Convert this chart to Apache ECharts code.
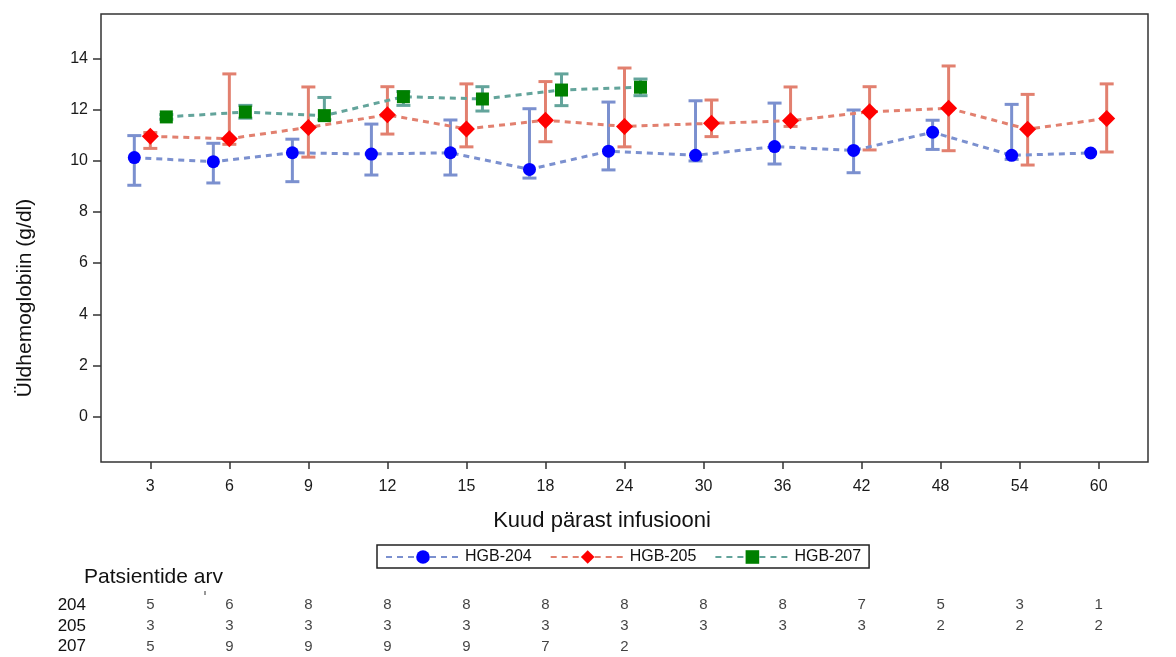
<!DOCTYPE html>
<html>
<head>
<meta charset="utf-8">
<script src="https://cdn.jsdelivr.net/npm/echarts@6/dist/echarts.min.js"></script>
<style>
html,body{margin:0;padding:0;background:#fff;}
#chart{width:1176px;height:657px;}
</style>
</head>
<body>
<div id="chart"></div>
<script>
// ---- data ----
var categories = ['3','6','9','12','15','18','24','30','36','42','48','54','60'];
var yTicks = [0,2,4,6,8,10,12,14];

var hgb204Mean = [10.12, 9.96, 10.31, 10.26, 10.31, 9.66, 10.37, 10.21, 10.55, 10.40, 11.11, 10.21, 10.30];
var hgb204Low  = [9.04, 9.13, 9.18, 9.44, 9.44, 9.32, 9.64, 9.99, 9.87, 9.53, 10.44, 10.05, null];
var hgb204High = [10.98, 10.68, 10.84, 11.43, 11.59, 12.03, 12.29, 12.34, 12.25, 11.98, 11.58, 12.20, null];

var hgb205Mean = [10.95, 10.86, 11.30, 11.79, 11.24, 11.58, 11.34, 11.46, 11.56, 11.91, 12.05, 11.23, 11.65];
var hgb205Low  = [10.48, 10.64, 10.14, 11.04, 10.54, 10.74, 10.54, 10.94, 11.34, 10.42, 10.39, 9.83, 10.34];
var hgb205High = [11.10, 13.39, 12.88, 12.89, 13.00, 13.09, 13.62, 12.37, 12.88, 12.89, 13.70, 12.59, 13.00];

var hgb207Mean = [11.71, 11.90, 11.76, 12.50, 12.41, 12.76, 12.87, null, null, null, null, null, null];
var hgb207Low  = [11.62, 11.66, 11.60, 12.16, 11.94, 12.15, 12.54, null, null, null, null, null, null];
var hgb207High = [11.80, 12.16, 12.47, 12.70, 12.89, 13.39, 13.19, null, null, null, null, null, null];

var tableRows = ['204','205','207'];
var n204 = [5,6,8,8,8,8,8,8,8,7,5,3,1];
var n205 = [3,3,3,3,3,3,3,3,3,3,2,2,2];
var n207 = [5,9,9,9,9,7,2];

var seriesNames = ['HGB-204','HGB-205','HGB-207'];

// ---- build ----
var groups = [
  {name: seriesNames[0], mean: hgb204Mean, low: hgb204Low, high: hgb204High, symbol: 'circle', size: 13, mark: '#0000FF', line: '#7B90CF'},
  {name: seriesNames[1], mean: hgb205Mean, low: hgb205Low, high: hgb205High, symbol: 'diamond', size: 17, mark: '#FF0000', line: '#E2806F'},
  {name: seriesNames[2], mean: hgb207Mean, low: hgb207Low, high: hgb207High, symbol: 'rect', size: 13, mark: '#008000', line: '#63A49B'}
];
var clusterStep = 0.2025;
function offsetFor(i, gi) {
  var present = [];
  groups.forEach(function (g, k) { if (g.mean[i] != null) present.push(k); });
  var rank = present.indexOf(gi);
  return (rank - (present.length - 1) / 2) * clusterStep;
}

var series = [];
groups.forEach(function (g, gi) {
  var barData = [];
  var lineData = [];
  g.mean.forEach(function (m, i) {
    if (m == null) return;
    var x = i + offsetFor(i, gi);
    lineData.push([x, m]);
    if (g.low[i] != null && g.high[i] != null) barData.push([x, g.low[i], g.high[i]]);
  });
  series.push({
    type: 'custom',
    name: g.name + '-err',
    xAxisIndex: 0, yAxisIndex: 0,
    z: 2,
    silent: true,
    renderItem: function (params, api) {
      var x = api.value(0);
      var lo = api.coord([x, api.value(1)]);
      var hi = api.coord([x, api.value(2)]);
      var cw = 7;
      var st = {stroke: g.line, lineWidth: 3};
      return {
        type: 'group',
        children: [
          {type: 'line', shape: {x1: lo[0], y1: lo[1], x2: hi[0], y2: hi[1]}, style: st},
          {type: 'line', shape: {x1: lo[0]-cw, y1: lo[1], x2: lo[0]+cw, y2: lo[1]}, style: st},
          {type: 'line', shape: {x1: hi[0]-cw, y1: hi[1], x2: hi[0]+cw, y2: hi[1]}, style: st}
        ]
      };
    },
    encode: {x: 0, y: [1, 2]},
    data: barData
  });
  series.push({
    type: 'line',
    name: g.name,
    xAxisIndex: 0, yAxisIndex: 0,
    z: 3,
    data: lineData,
    symbol: g.symbol,
    symbolSize: g.size,
    showAllSymbol: true,
    itemStyle: {color: g.mark},
    lineStyle: {color: g.line, width: 3, type: [6, 5]},
    animation: false
  });
});

var counts = [n204, n205, n207];
var tableData = [];
counts.forEach(function (arr, r) {
  arr.forEach(function (v, i) { tableData.push([i, r, v]); });
});
series.push({
  type: 'scatter',
  xAxisIndex: 1, yAxisIndex: 1,
  symbolSize: 0,
  silent: true,
  data: tableData,
  label: {
    show: true, position: 'inside',
    formatter: function (p) { return String(p.value[2]); },
    fontSize: 15, color: '#111', fontFamily: 'Liberation Sans, Arial, sans-serif'
  }
});

var idx = categories.map(function (c, i) { return i; });
var font = 'Liberation Sans, Arial, sans-serif';

var option = {
  animation: false,
  backgroundColor: '#fff',
  textStyle: {fontFamily: font},
  grid: [
    {left: 101, right: 28, top: 14, bottom: 195, show: true, borderColor: '#333', borderWidth: 1.5, backgroundColor: 'transparent'},
    {left: 101, right: 28, top: 595, height: 64.5}
  ],
  xAxis: [
    {
      type: 'value', gridIndex: 0, min: -0.624, max: 12.624,
      splitLine: {show: false},
      axisLine: {show: false, onZero: false},
      axisTick: {show: true, customValues: idx, length: 7, lineStyle: {color: '#333', width: 1.5}},
      axisLabel: {customValues: idx, formatter: function (v) { return categories[Math.round(v)]; }, fontSize: 16, color: '#1a1a1a', margin: 17, fontFamily: font}
    },
    {
      type: 'value', gridIndex: 1, min: -0.624, max: 12.624,
      show: false
    }
  ],
  yAxis: [
    {
      type: 'value', gridIndex: 0, min: -1.77, max: 15.73,
      splitLine: {show: false},
      axisLine: {show: false, onZero: false},
      axisTick: {show: true, customValues: yTicks, length: 8, lineStyle: {color: '#333', width: 1.5}},
      axisLabel: {customValues: yTicks, fontSize: 16, color: '#1a1a1a', margin: 13, fontFamily: font}
    },
    {
      type: 'category', gridIndex: 1, data: tableRows, inverse: true,
      axisLine: {show: false, onZero: false}, axisTick: {show: false}, splitLine: {show: false},
      axisLabel: {interval: 0, fontSize: 17, color: '#111', margin: 15, fontFamily: font}
    }
  ],
  legend: {
    data: seriesNames,
    left: 377, top: 545,
    orient: 'horizontal',
    itemWidth: 74, itemHeight: 17, itemGap: 18,
    padding: [4, 8, 3, 8],
    borderColor: '#222', borderWidth: 1.5,
    textStyle: {fontSize: 16, color: '#111', fontFamily: font},
    selectedMode: false
  },
  graphic: [
    {type: 'text', x: 25, y: 298, rotation: Math.PI / 2, style: {text: 'Üldhemoglobiin (g/dl)', fontSize: 21, fill: '#111', fontFamily: font, align: 'center', verticalAlign: 'middle'}},
    {type: 'text', x: 602, y: 521, style: {text: 'Kuud pärast infusiooni', fontSize: 22, fill: '#111', fontFamily: font, align: 'center', verticalAlign: 'middle'}},
    {type: 'text', x: 84, y: 577, style: {text: 'Patsientide arv', fontSize: 21, fill: '#111', fontFamily: font, align: 'left', verticalAlign: 'middle'}},
    {type: 'line', shape: {x1: 205, y1: 591, x2: 205, y2: 595}, style: {stroke: '#333', lineWidth: 1}}
  ],
  series: series
};

var chart = echarts.init(document.getElementById('chart'), null, {renderer: 'canvas'});
chart.setOption(option);
</script>
</body>
</html>
